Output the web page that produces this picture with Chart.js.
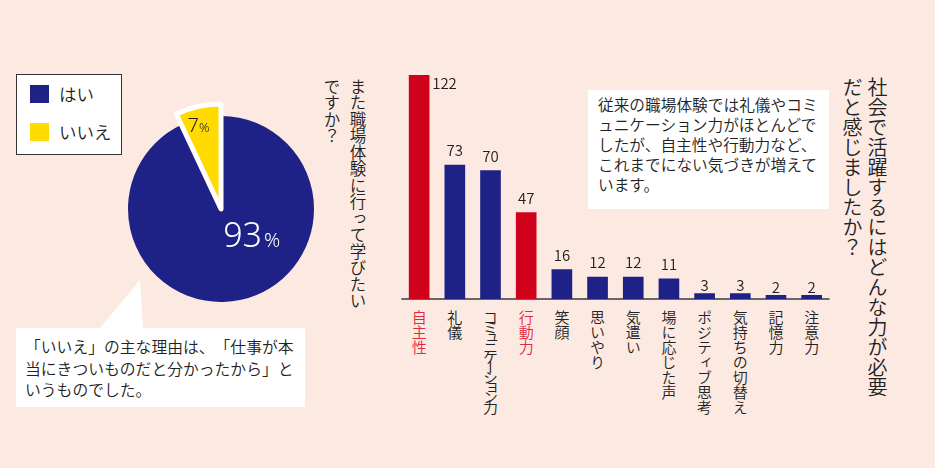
<!DOCTYPE html>
<html lang="ja">
<head>
<meta charset="utf-8">
<script src="https://cdn.jsdelivr.net/npm/chart.js@4.4.1/dist/chart.umd.min.js"></script>
<style>
  html, body { margin: 0; padding: 0; }
  body {
    width: 935px; height: 468px; position: relative; overflow: hidden;
    background: #fceae2; color: #222;
    font-family: "Noto Sans CJK JP", "Noto Sans", sans-serif;
    font-weight: 350;
    text-spacing-trim: space-all;
  }
  .abs { position: absolute; }
  #pieWrap { left: 111px; top: 99px; width: 220px; height: 220px; }
  #barWrap { left: 380px; top: 40px; width: 470px; height: 270px; }
  .legendBox { left: 16px; top: 74px; width: 104px; height: 79px; background: #fff; border: 1.5px solid #333; }
  .swatch { width: 19px; height: 18px; }
  .legText { font-size: 17.5px; line-height: 18px; white-space: nowrap; }
  .note { font-size: 15.8px; line-height: 21.5px; white-space: nowrap; }
  .vt { writing-mode: vertical-rl; white-space: nowrap; }
  .cat { font-size: 15px; line-height: 15px; width: 15px; }
</style>
</head>
<body>
<div id="legend"></div>

<svg class="abs" style="left:0;top:0" width="935" height="468">
  <polygon points="16,328 100,328 140,280 143,328 305,328 305,407 16,407" fill="#fff"/>
</svg>
<div class="abs note" style="left:25px;top:336px">「いいえ」の主な理由は、「仕事が本<br>当にきついものだと分かったから」と<br>いうものでした。</div>

<div class="abs" style="left:588px;top:90px;width:241px;height:119px;background:#fff"></div>
<div class="abs note" style="left:598px;top:95px;font-size:15.7px;line-height:20px">従来の職場体験では礼儀やコミ<br>ュニケーション力がほとんどで<br>したが、自主性や行動力など、<br>これまでにない気づきが増えて<br>います。</div>

<div class="abs vt" style="left:319px;top:78px;font-size:16.5px;line-height:26px">また職場体験に行って学びたい<br>ですか？</div>
<div class="abs vt" style="left:840px;top:77px;font-size:20px;line-height:25px">社会で活躍するにはどんな力が必要<br>だと感じましたか？</div>

<div id="pieWrap" class="abs"><canvas id="pie" width="220" height="220"></canvas></div>
<div id="barWrap" class="abs"><canvas id="bar" width="470" height="270"></canvas></div>

<script>
// pie: また職場体験に行って学びたいですか？ (%)
const pieLabels = ['はい', 'いいえ'];
const pieValues = [93, 7];
const pieColors = ['#1e2185', '#ffdb00'];

// bars: 社会で活躍するにはどんな力が必要だと感じましたか？
const categories = ['自主性', '礼儀', 'コミュニケーション力', '行動力', '笑顔', '思いやり',
                    '気遣い', '場に応じた声', 'ポジティブ思考', '気持ちの切替え', '記憶力', '注意力'];
const counts = [122, 73, 70, 47, 16, 12, 12, 11, 3, 3, 2, 2];
const highlighted = ['自主性', '行動力'];

const navy = '#1e2185';
const red = '#d0011b';
const redText = '#dc2a40';

// Legend (HTML box)
const legend = document.getElementById('legend');
legend.innerHTML = '<div class="abs legendBox"></div>';
pieLabels.forEach((lab, i) => {
    const top = 85 + i * 38;
    legend.innerHTML +=
        `<div class="abs swatch" style="left:30px;top:${top}px;background:${pieColors[i]}"></div>` +
        `<div class="abs legText" style="left:59px;top:${top}px">${lab}</div>`;
});

// Pop the small slice out to a bigger radius
const popOut = {
    id: 'popOut',
    afterDatasetUpdate(chart, args) {
        const arc = args.meta.data[1];
        if (arc) arc.outerRadius += 12;
    }
};

// Percent labels on the pie
const pieText = {
    id: 'pieText',
    afterDatasetsDraw(chart) {
        const arcs = chart.getDatasetMeta(0).data;
        const { x, y } = arcs[0];
        const ctx = chart.ctx;
        ctx.save();
        ctx.textBaseline = 'alphabetic';
        // big slice
        ctx.fillStyle = '#fff';
        ctx.font = '300 34px "Noto Sans"';
        ctx.textAlign = 'right';
        ctx.fillText(String(pieValues[0]), x + 41, y + 38);
        ctx.font = '300 20px "Noto Sans"';
        ctx.textAlign = 'left';
        ctx.fillText('%', x + 43, y + 38);
        // small slice
        ctx.fillStyle = '#222';
        ctx.font = '300 20px "Noto Sans"';
        ctx.textAlign = 'right';
        ctx.fillText(String(pieValues[1]), x - 22, y - 77);
        ctx.font = '300 13px "Noto Sans"';
        ctx.textAlign = 'left';
        ctx.fillText('%', x - 22, y - 77);
        ctx.restore();
    }
};

new Chart(document.getElementById('pie'), {
    type: 'pie',
    data: {
        labels: pieLabels,
        datasets: [{
            data: pieValues,
            backgroundColor: pieColors,
            borderColor: '#fff',
            borderWidth: [0, 5],
            borderJoinStyle: 'round'
        }]
    },
    options: {
        responsive: false,
        animation: false,
        radius: 93,
        layout: { padding: 0 },
        plugins: { legend: { display: false }, tooltip: { enabled: false } }
    },
    plugins: [popOut, pieText]
});

// Baseline under the bars
const baseline = {
    id: 'baseline',
    beforeDatasetsDraw(chart) {
        const { ctx, chartArea } = chart;
        const y0 = chart.scales.y.getPixelForValue(0);
        ctx.save();
        ctx.strokeStyle = '#3a3a3a';
        ctx.lineWidth = 1.5;
        ctx.beginPath();
        ctx.moveTo(chartArea.left, y0);
        ctx.lineTo(chartArea.right, y0);
        ctx.stroke();
        ctx.restore();
    }
};

// Values above bars
const valueLabels = {
    id: 'valueLabels',
    afterDatasetsDraw(chart) {
        const ctx = chart.ctx;
        const max = Math.max(...counts);
        ctx.save();
        ctx.fillStyle = '#222';
        ctx.font = '350 15px "Noto Sans CJK JP"';
        ctx.textBaseline = 'middle';
        chart.getDatasetMeta(0).data.forEach((bar, i) => {
            const v = counts[i];
            if (v === max) {
                // tallest bar: put value next to its top
                ctx.textAlign = 'left';
                ctx.fillText(String(v), bar.x + bar.width / 2 + 3, bar.y + 8);
            } else {
                const gap = (bar.base - bar.y) < 10 ? 8.5 : 14.5;
                ctx.textAlign = 'center';
                ctx.fillText(String(v), bar.x, bar.y - gap);
            }
        });
        ctx.restore();
    }
};

// Vertical category names, placed from the x scale
const categoryLabels = {
    id: 'categoryLabels',
    afterDraw(chart) {
        if (chart.$catsDone) return;
        chart.$catsDone = true;
        const wrap = document.getElementById('barWrap');
        const offX = wrap.offsetLeft;
        const y0 = chart.scales.y.getPixelForValue(0) + wrap.offsetTop;
        categories.forEach((name, i) => {
            const px = chart.scales.x.getPixelForValue(i) + offX;
            const el = document.createElement('div');
            el.className = 'abs vt cat';
            el.textContent = name;
            el.style.left = (px - 7.5) + 'px';
            el.style.top = (y0 + 11) + 'px';
            el.style.color = highlighted.includes(name) ? redText : '#222';
            if (name.length > 8) el.style.letterSpacing = '-5px';
            document.body.appendChild(el);
        });
    }
};

new Chart(document.getElementById('bar'), {
    type: 'bar',
    data: {
        labels: categories,
        datasets: [{
            data: counts,
            backgroundColor: categories.map(c => highlighted.includes(c) ? red : navy),
            barThickness: 20
        }]
    },
    options: {
        responsive: false,
        animation: false,
        layout: { padding: { left: 21.3, right: 20.5, top: 35, bottom: 11 } },
        scales: {
            x: { display: false },
            y: { display: false, min: 0, max: Math.max(...counts) }
        },
        plugins: { legend: { display: false }, tooltip: { enabled: false } }
    },
    plugins: [baseline, valueLabels, categoryLabels]
});
</script>
</body>
</html>
